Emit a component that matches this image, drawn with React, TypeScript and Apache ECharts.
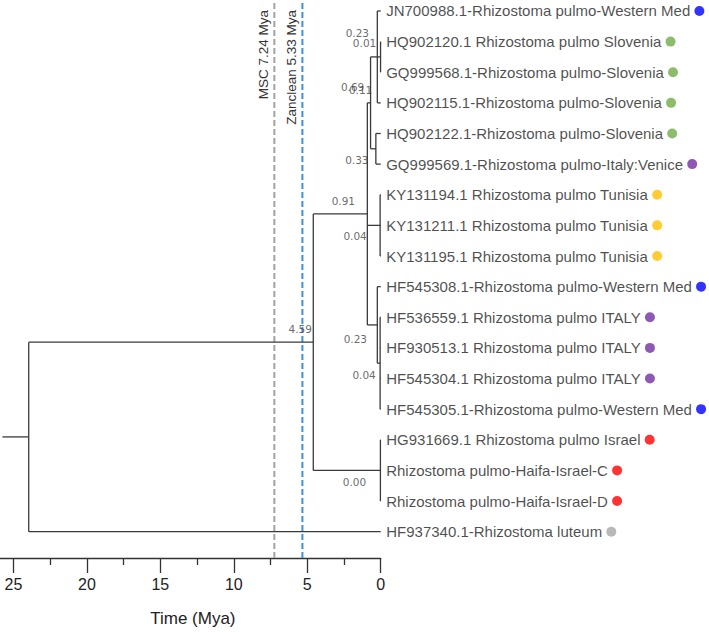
import React, { useEffect, useRef } from 'react';
import * as echarts from 'echarts';

// ---------- DATA ----------
const tipNames: string[] = [
  'JN700988.1-Rhizostoma pulmo-Western Med',
  'HQ902120.1 Rhizostoma pulmo Slovenia',
  'GQ999568.1-Rhizostoma pulmo-Slovenia',
  'HQ902115.1-Rhizostoma pulmo-Slovenia',
  'HQ902122.1-Rhizostoma pulmo-Slovenia',
  'GQ999569.1-Rhizostoma pulmo-Italy:Venice',
  'KY131194.1 Rhizostoma pulmo Tunisia',
  'KY131211.1 Rhizostoma pulmo Tunisia',
  'KY131195.1 Rhizostoma pulmo Tunisia',
  'HF545308.1-Rhizostoma pulmo-Western Med',
  'HF536559.1 Rhizostoma pulmo ITALY',
  'HF930513.1 Rhizostoma pulmo ITALY',
  'HF545304.1 Rhizostoma pulmo ITALY',
  'HF545305.1-Rhizostoma pulmo-Western Med',
  'HG931669.1 Rhizostoma pulmo Israel',
  'Rhizostoma pulmo-Haifa-Israel-C',
  'Rhizostoma pulmo-Haifa-Israel-D',
  'HF937340.1-Rhizostoma luteum',
];
const tipGroups: string[] = [
  'westMed', 'slovenia', 'slovenia', 'slovenia', 'slovenia', 'italy',
  'tunisia', 'tunisia', 'tunisia', 'westMed', 'italy', 'italy', 'italy',
  'westMed', 'israel', 'israel', 'israel', 'luteum',
];
const groupColors: Record<string, string> = {
  westMed: '#0000FF',
  slovenia: '#70AD47',
  italy: '#7030A0',
  tunisia: '#FFC000',
  israel: '#FF0000',
  luteum: '#A6A6A6',
};

// internal nodes: age in Mya, children ids (tips are "t<index>")
const nodeIds: string[] = ['n001', 'n023a', 'n033', 'n069', 'n004a', 'n004b', 'n023b', 'n091', 'n000', 'n459', 'root'];
const nodeAges: number[] = [0.01, 0.23, 0.33, 0.69, 0.04, 0.04, 0.23, 0.91, 0.02, 4.59, 23.96];
const nodeChildren: string[][] = [
  ['t1', 't2'],
  ['t0', 'n001', 't3'],
  ['t4', 't5'],
  ['n023a', 'n033'],
  ['t6', 't7', 't8'],
  ['t10', 't11', 't12', 't13'],
  ['t9', 'n004b'],
  ['n069', 'n004a', 'n023b'],
  ['t14', 't15', 't16'],
  ['n091', 'n000'],
  ['n459', 't17'],
];
const rootStemAge = 25.75;

const nodeLabelNodes: string[] = ['n023a', 'n001', 'n069', 'n069', 'n033', 'n091', 'n004a', 'n023b', 'n004b', 'n000', 'n459'];
const nodeLabelTexts: string[] = ['0.23', '0.01', '0.69', '0.11', '0.33', '0.91', '0.04', '0.23', '0.04', '0.00', '4.59'];

const refLineAges: number[] = [7.24, 5.33];
const refLineTexts: string[] = ['MSC 7.24 Mya', 'Zanclean 5.33 Mya'];
const refLineColors: string[] = ['#A3A3A3', '#3F8FDF'];

const xTickInterval = 5;
const axisTitle = 'Time (Mya)';

// ---------- STYLE (offsets for node labels, px) ----------
const nodeLabelOffsets: number[][] = [
  [-20, -24], [-16, -14], [-18, -16], [-10, -13], [-19, 11], [-24, -13],
  [-25, 11], [-22, 14], [-16, 12], [-26, 12], [-13, -13],
];

// ---------- TREE LAYOUT (from data) ----------
function buildTree() {
  const ageOf: Record<string, number> = {};
  const yOf: Record<string, number> = {};
  tipNames.forEach((_, i) => { ageOf['t' + i] = 0; yOf['t' + i] = i; });
  nodeIds.forEach((id, i) => { ageOf[id] = nodeAges[i]; });
  const childrenOf: Record<string, string[]> = {};
  nodeIds.forEach((id, i) => { childrenOf[id] = nodeChildren[i]; });
  const resolveY = (id: string): number => {
    if (yOf[id] !== undefined) return yOf[id];
    const ys = childrenOf[id].map(resolveY);
    const y = (Math.min(...ys) + Math.max(...ys)) / 2;
    yOf[id] = y;
    return y;
  };
  resolveY('root');
  const edges: number[][] = [];
  nodeIds.forEach((id) => {
    const ch = childrenOf[id];
    const ys = ch.map((c) => yOf[c]);
    edges.push([ageOf[id], Math.min(...ys), ageOf[id], Math.max(...ys)]);
    ch.forEach((c) => edges.push([ageOf[id], yOf[c], ageOf[c], yOf[c]]));
  });
  edges.push([rootStemAge, yOf['root'], ageOf['root'], yOf['root']]);
  return { ageOf, yOf, edges };
}

// chart canvas is shifted left so the axis (0..30) starts off-page
const SHIFT = 59.7;

export default function App() {
  const ref = useRef<HTMLDivElement>(null);
  useEffect(() => {
    if (!ref.current) return;
    const chart = echarts.init(ref.current, null, { renderer: 'svg' });
    const { ageOf, yOf, edges } = buildTree();

    const rich: Record<string, any> = {
      t: { fontSize: 15, fontFamily: 'Liberation Sans', color: '#1e1e1e' },
    };
    Object.keys(groupColors).forEach((k) => {
      rich[k] = { width: 10, height: 10, borderRadius: 5, backgroundColor: groupColors[k], verticalAlign: 'middle' };
    });

    // tip y index -> pixel: 11 + 30.7 * i ; grid height 559.3
    const yMin = -11 / 30.7;
    const yMax = yMin + 559.3 / 30.7;

    const option: any = {
      animation: false,
      backgroundColor: '#ffffff',
      grid: { left: 0, right: 328.3, top: 0, bottom: 72.7, containLabel: false },
      xAxis: {
        type: 'value',
        position: 'bottom',
        min: 0,
        max: 30,
        interval: xTickInterval,
        inverse: true,
        axisLine: { show: true, onZero: false, lineStyle: { color: '#333', width: 1.3 } },
        axisTick: { show: true, length: 15, lineStyle: { color: '#333', width: 1.3 } },
        minorTick: { show: true, splitNumber: 2, length: 7, lineStyle: { color: '#333', width: 1.3 } },
        splitLine: { show: false },
        minorSplitLine: { show: false },
        axisLabel: { fontSize: 16, color: '#222', fontFamily: 'Liberation Sans', margin: 18, showMaxLabel: false },
        name: axisTitle,
        nameLocation: 'middle',
        nameGap: 52,
        nameTextStyle: { fontSize: 17, color: '#222', fontFamily: 'Liberation Sans', padding: [0, 0, 0, 65] },
      },
      yAxis: { type: 'value', min: yMin, max: yMax, inverse: true, show: false },
      series: [
        {
          type: 'custom',
          name: 'refLines',
          data: refLineAges.map((a) => [a, 0]),
          encode: { x: 0, y: 1 },
          renderItem: (params: any, api: any) => {
            const i = params.dataIndex;
            const x = api.coord([api.value(0), 0])[0];
            const cs = params.coordSys;
            return {
              type: 'group',
              children: [
                {
                  type: 'line',
                  shape: { x1: x, y1: cs.y + 3, x2: x, y2: cs.y + cs.height },
                  style: { stroke: refLineColors[i], lineWidth: 2, lineDash: [6, 3] },
                },
                {
                  type: 'text',
                  x: x - 4,
                  y: cs.y + 10,
                  rotation: Math.PI / 2,
                  style: {
                    text: refLineTexts[i],
                    fill: '#333',
                    font: '13.5px "Liberation Sans"',
                    align: 'right',
                    verticalAlign: 'bottom',
                  },
                },
              ],
            };
          },
          z: 1,
        },
        {
          type: 'custom',
          name: 'tree',
          data: edges,
          encode: { x: [0, 2], y: [1, 3] },
          renderItem: (params: any, api: any) => {
            const p1 = api.coord([api.value(0), api.value(1)]);
            const p2 = api.coord([api.value(2), api.value(3)]);
            return {
              type: 'line',
              shape: { x1: p1[0], y1: p1[1], x2: p2[0], y2: p2[1] },
              style: { stroke: '#3a3a3a', lineWidth: 1.3 },
            };
          },
          z: 2,
        },
        {
          type: 'scatter',
          name: 'tips',
          symbolSize: 1,
          itemStyle: { color: 'rgba(0,0,0,0)' },
          data: tipNames.map((n, i) => ({ value: [0, i], name: n })),
          label: {
            show: true,
            position: 'right',
            distance: 5,
            fontSize: 15,
            fontFamily: 'Liberation Sans',
            color: '#1e1e1e',
            formatter: (p: any) => `{t|${tipNames[p.dataIndex]}} {${tipGroups[p.dataIndex]}|}`,
            rich,
          },
          z: 3,
        },
        {
          type: 'scatter',
          name: 'nodeLabels',
          symbolSize: 1,
          itemStyle: { color: 'rgba(0,0,0,0)' },
          data: nodeLabelNodes.map((id, i) => ({
            value: [ageOf[id], yOf[id]],
            label: { offset: nodeLabelOffsets[i] },
          })),
          label: {
            show: true,
            position: 'inside',
            fontSize: 10.5,
            fontFamily: 'DejaVu Sans',
            color: '#444',
            formatter: (p: any) => nodeLabelTexts[p.dataIndex],
          },
          z: 4,
        },
      ],
    };
    chart.setOption(option);
    return () => chart.dispose();
  }, []);
  return (
    <div
      ref={ref}
      style={{ position: 'fixed', left: -SHIFT, top: 0, width: 709 + SHIFT, height: 632 }}
    />
  );
}
